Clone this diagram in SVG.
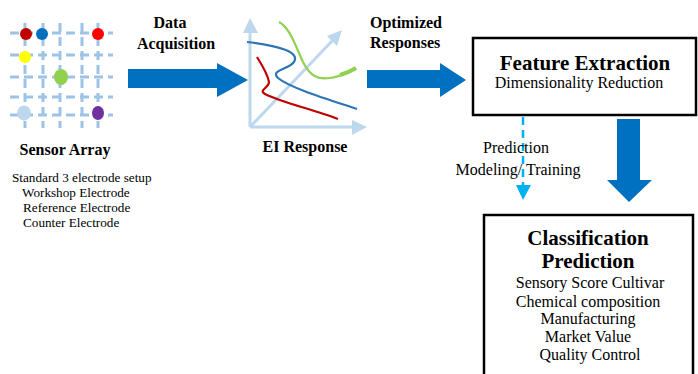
<svg xmlns="http://www.w3.org/2000/svg" width="698" height="374" viewBox="0 0 698 374">
<style>
.b{font-family:"Liberation Serif","Times New Roman",serif;font-weight:bold;font-size:16px;fill:#000}
.r{font-family:"Liberation Serif","Times New Roman",serif;font-size:16px;fill:#000}
.s{font-family:"Liberation Serif","Times New Roman",serif;font-size:13.2px;fill:#000}
.t{font-family:"Liberation Serif","Times New Roman",serif;font-weight:bold;font-size:21px;fill:#000}
.grid line{stroke:#9dc3e6;stroke-width:3;stroke-dasharray:9 5}
.axis{stroke:#bdd7ee;stroke-width:3;fill:none}
.axh{fill:#bdd7ee}
.big{fill:#0070c0}
.box{fill:#fff;stroke:#000;stroke-width:2.5}
</style>
<g id="sensor-array">
<g class="grid">
<line x1="10" y1="33" x2="113" y2="33"/>
<line x1="10" y1="55" x2="113" y2="55"/>
<line x1="10" y1="77" x2="113" y2="77"/>
<line x1="10" y1="97" x2="113" y2="97"/>
<line x1="10" y1="115" x2="113" y2="115"/>
<line x1="25" y1="23" x2="25" y2="128"/>
<line x1="43" y1="23" x2="43" y2="128"/>
<line x1="60" y1="23" x2="60" y2="128"/>
<line x1="82" y1="23" x2="82" y2="128"/>
<line x1="98" y1="23" x2="98" y2="128"/>
</g>
<ellipse cx="26" cy="34" rx="6" ry="6" fill="#c00000"/>
<ellipse cx="42" cy="34" rx="6" ry="6" fill="#0070c0"/>
<ellipse cx="98" cy="34" rx="6" ry="6" fill="#ff0000"/>
<ellipse cx="25" cy="57" rx="6" ry="6" fill="#ffff00"/>
<ellipse cx="61" cy="77" rx="7" ry="8" fill="#92d050"/>
<ellipse cx="24" cy="113" rx="7" ry="7.5" fill="#bdd7ee"/>
<ellipse cx="98" cy="113" rx="6" ry="7" fill="#7030a0"/>
<text class="b" x="65" y="155" text-anchor="middle">Sensor Array</text>
<text class="s" x="12" y="182">Standard 3 electrode setup</text>
<text class="s" x="22" y="197">Workshop Electrode</text>
<text class="s" x="23" y="212">Reference Electrode</text>
<text class="s" x="23" y="227">Counter Electrode</text>
</g>
<g id="ei-response">
<line class="axis" x1="250" y1="127" x2="250" y2="32"/>
<polygon class="axh" points="250,18 243,33 258,33"/>
<line class="axis" x1="250" y1="127" x2="353" y2="127"/>
<polygon class="axh" points="367,127 352,120 352,135"/>
<line class="axis" x1="250" y1="127" x2="333" y2="40"/>
<polygon class="axh" points="342,30 327,36 337,46"/>
<path d="M247,42 C280,46 300,52 294,62 C288,70 270,70 278,78 C290,88 330,100 357,109" fill="none" stroke="#2e75b6" stroke-width="2.2"/>
<path d="M257,57 C262,65 268,75 269,82 C269,88 258,90 265,94 C280,102 315,110 338,119" fill="none" stroke="#c00000" stroke-width="2.2"/>
<path d="M279,22 C290,28 295,45 303,62 C310,76 318,80 330,78 C340,77 348,72 356,69" fill="none" stroke="#92d050" stroke-width="2.2"/>
<path d="M340,75 C347,73 351,71 356,68" fill="none" stroke="#92d050" stroke-width="4"/>
<text class="b" x="305" y="152" text-anchor="middle">EI Response</text>
</g>
<g id="feature-extraction">
<rect class="box" x="473" y="38" width="223" height="77"/>
<text class="t" x="585" y="70" text-anchor="middle">Feature Extraction</text>
<text class="r" x="579" y="88" text-anchor="middle">Dimensionality Reduction</text>
</g>
<g id="classification-prediction">
<rect class="box" x="484" y="215" width="209" height="165"/>
<text class="t" x="588" y="245" text-anchor="middle">Classification</text>
<text class="t" x="588" y="268" text-anchor="middle">Prediction</text>
<text class="r" x="590" y="288" text-anchor="middle">Sensory Score Cultivar</text>
<text class="r" x="588" y="307" text-anchor="middle">Chemical composition</text>
<text class="r" x="588" y="324" text-anchor="middle">Manufacturing</text>
<text class="r" x="588" y="342" text-anchor="middle">Market Value</text>
<text class="r" x="590" y="360" text-anchor="middle">Quality Control</text>
</g>
<g id="connectors">
<polygon class="big" points="128,69 217,69 217,63 248,80 217,97 217,88 128,88"/>
<text class="b" x="170" y="28" text-anchor="middle">Data</text>
<text class="b" x="176" y="49" text-anchor="middle">Acquisition</text>
<polygon class="big" points="367,70 440,70 440,63 466,80 440,97 440,88 367,88"/>
<text class="b" x="370" y="28">Optimized</text>
<text class="b" x="370" y="48">Responses</text>
<polygon class="big" points="617,119 640,119 640,180 652,180 629,202 607,180 617,180"/>
<line x1="523" y1="117" x2="523" y2="186" stroke="#00b0f0" stroke-width="2.5" stroke-dasharray="8 5"/>
<polygon points="516,185 531,185 523,200" fill="#00b0f0"/>
<text class="r" x="516" y="153" text-anchor="middle">Prediction</text>
<text class="r" x="518" y="175" text-anchor="middle">Modeling/ Training</text>
</g>
</svg>
